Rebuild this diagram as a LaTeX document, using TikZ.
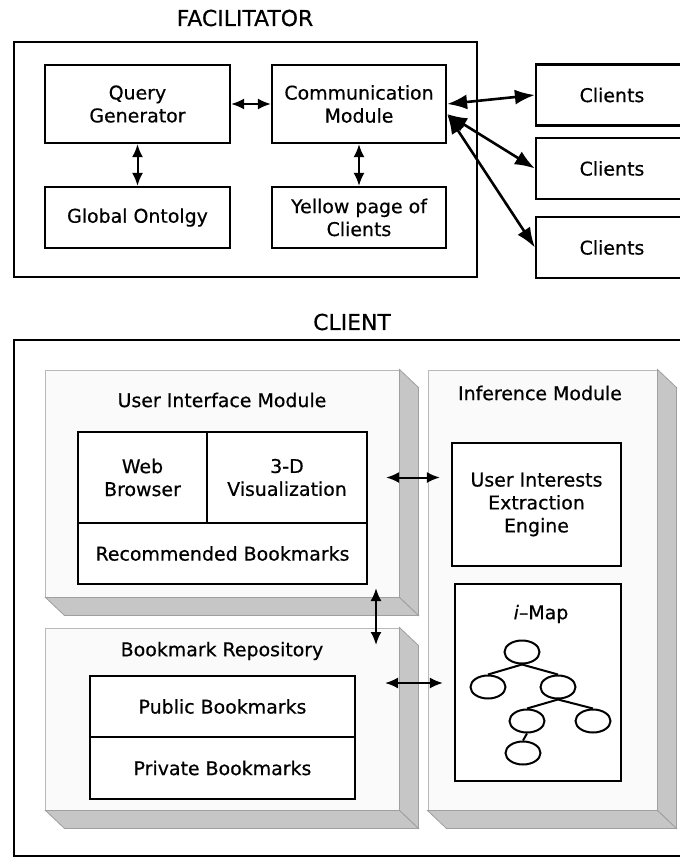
\documentclass[tikz,border=0pt]{standalone}
\usepackage{fontspec}
\setmainfont{DejaVu Sans}[FakeBold=0.5]
\usetikzlibrary{calc, shapes.geometric, positioning, arrows.meta}

\newcommand{\lblfont}{\fontsize{19}{23}\selectfont}
\newcommand{\ttlfont}{\fontsize{22}{26}\selectfont}

\begin{document}
\begin{tikzpicture}[x=1bp, y=-1bp, >={Latex[length=13bp, width=11bp]},
    box/.style={draw, line width=2.2bp, fill=white, align=center, font=\lblfont, inner sep=2bp},
    module/.style={draw=gray!55, fill=gray!4, line width=1bp},
    face/.style={draw=gray!75, fill=gray!45, line width=0.8bp},
    arr/.style={<->, line width=2bp},
    bigarr/.style={{Latex[length=20bp, width=15bp]}-{Latex[length=20bp, width=15bp]}, line width=2.6bp},
    leaf/.style={draw, ellipse, line width=2bp, minimum width=35bp, minimum height=23bp, inner sep=0pt}]

    \useasboundingbox (0,0) rectangle (680,858);

    % 1. Facilitator
    \node[font=\ttlfont] (factitle) at (245,18) {FACILITATOR};
    \node[draw, line width=2.6bp, minimum width=463bp, minimum height=235bp] (fac) at (245.5,159.5) {};
    \node[box, minimum width=185bp, minimum height=78bp] (qg) at (137.5,104) {Query\\Generator};
    \node[box, minimum width=174bp, minimum height=78bp] (cm) at (359,104) {Communication\\Module};
    \node[box, minimum width=185bp, minimum height=61bp] (go) at (137.5,217.5) {Global Ontolgy};
    \node[box, minimum width=174bp, minimum height=61bp] (yp) at (359,217.5) {Yellow page of\\Clients};

    \draw[arr] (qg.east) -- (cm.west);
    \draw[arr] (qg.south) -- (go.north);
    \draw[arr] (cm.south) -- (yp.north);

    % 2. Clients
    \foreach \i/\y in {1/95, 2/168.5, 3/247.5} {
        \node[box, minimum width=152bp, minimum height=61bp] (c\i) at (612,\y) {Clients};
    }
    \draw[bigarr] (cm.east) -- (c1.west);
    \draw[bigarr] ([yshift=-10bp]cm.east) -- (c2.west);
    \draw[bigarr] ([yshift=-10bp]cm.east) -- (c3.west);

    % 3. Client
    \node[font=\ttlfont] (clititle) at (352,322) {CLIENT};
    \node[draw, line width=2.6bp, minimum width=690bp, minimum height=516bp] (cli) at (359,598) {};

    \node[module, minimum width=353bp, minimum height=227bp] (ui) at (222.5,483.5) {};
    \node[module, minimum width=229bp, minimum height=440bp] (inf) at (542.5,590) {};
    \node[module, minimum width=353bp, minimum height=182bp] (br) at (222.5,719) {};

    % 4. Schattenflächen der Module
    \foreach \m in {ui, inf, br} {
        \draw[face] (\m.north east) -- ++(19,18) -- ($(\m.south east)+(19,18)$) -- (\m.south east) -- cycle;
        \draw[face] (\m.south west) -- (\m.south east) -- ++(19,18) -- ($(\m.south west)+(19,18)$) -- cycle;
    }

    \node[font=\lblfont] (uititle) at (222,400) {User Interface Module};
    \node[font=\lblfont] (inftitle) at (540,393) {Inference Module};
    \node[font=\lblfont] (brtitle) at (222,651) {Bookmark Repository};

    \node[box, minimum width=129bp, minimum height=91bp] (web) at (142.5,477.5) {Web\\Browser};
    \node[box, minimum width=160bp, minimum height=91bp] (vis) at (287,477.5) {3-D\\Visualization};
    \node[box, minimum width=289bp, minimum height=61bp] (rec) at (222.5,553.5) {Recommended Bookmarks};

    \node[box, minimum width=169bp, minimum height=123bp] (uiee) at (536.5,504.5) {User Interests\\Extraction\\Engine};
    \node[box, minimum width=166bp, minimum height=197bp] (imap) at (538,682.5) {};
    \node[font=\lblfont] (imaptitle) at (541,614) {\textit{i}--Map};

    \node[box, minimum width=265bp, minimum height=61bp] (pub) at (222.5,706.5) {Public Bookmarks};
    \node[box, minimum width=265bp, minimum height=62bp] (priv) at (222.5,768) {Private Bookmarks};

    % 5. Baum der i-Map
    \node[leaf] (t0) at (522,652) {};
    \node[leaf] (t1) at (488,687) {};
    \node[leaf] (t2) at (558,687) {};
    \node[leaf] (t3) at (527,721) {};
    \node[leaf] (t4) at (593,721) {};
    \node[leaf] (t5) at (523,753) {};
    \draw[line width=2bp] (t0.south) -- (t1.north) (t0.south) -- (t2.north)
        (t2.south) -- (t3.north) (t2.south) -- (t4.north) (t3.south) -- (t5.north);

    % 6. Pfeile im Client
    \coordinate (uibot) at (376,588);
    \coordinate (brtop) at (376,645);
    \draw[arr, shorten <=18bp, shorten >=11bp] (vis.east) -- (vis.east -| uiee.west);
    \draw[arr] (uibot) -- (brtop);
    \coordinate (brright) at (385,683);
    \draw[arr, shorten >=11bp] (brright) -- (brright -| imap.west);
\end{tikzpicture}
\end{document}
